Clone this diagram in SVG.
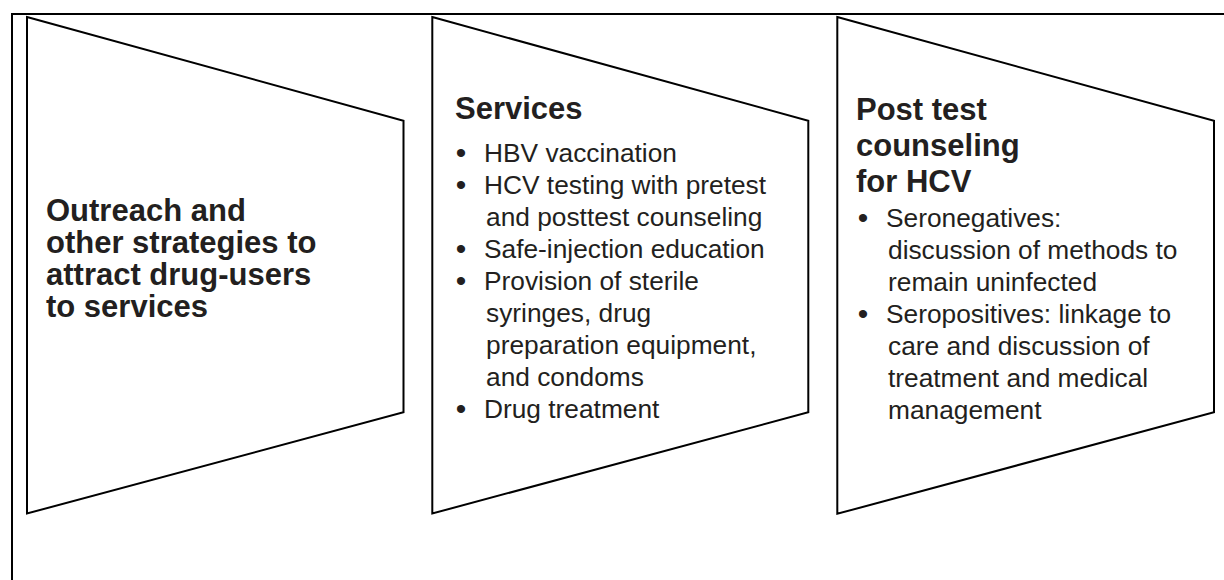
<svg xmlns="http://www.w3.org/2000/svg" width="1224" height="580" viewBox="0 0 1224 580">
<style>
.frame{fill:none;stroke:#000;stroke-width:2}
.shape{fill:#fff;stroke:#000;stroke-width:2;stroke-linejoin:miter}
.h{font-family:"Liberation Sans",Arial,Helvetica,sans-serif;font-weight:bold;font-size:31px;fill:#231f20}
.b{font-family:"Liberation Sans",Arial,Helvetica,sans-serif;font-size:26.3px;fill:#231f20}
.dot{font-size:30px}
</style>
<rect width="1224" height="580" fill="#fff"/>
<path class="frame" d="M12,580 V14 H1224"/>
<g id="node-outreach">
<polygon class="shape" points="27,17 403.5,120.7 403.5,412.3 27,513.5"/>
<text class="h" x="46" y="221">Outreach and</text>
<text class="h" x="46" y="253">other strategies to</text>
<text class="h" x="46" y="285">attract drug-users</text>
<text class="h" x="46" y="317">to services</text>
</g>
<g id="node-services">
<polygon class="shape" points="432.3,17 808.3,120.7 808.3,412.3 432.3,513.5"/>
<text class="h" x="455" y="118.5">Services</text>
<g class="b">
<text class="dot" x="461" y="163" text-anchor="middle">•</text><text x="484" y="162">HBV vaccination</text>
<text class="dot" x="461" y="195" text-anchor="middle">•</text><text x="484" y="194">HCV testing with pretest</text>
<text x="486" y="226">and posttest counseling</text>
<text class="dot" x="461" y="259" text-anchor="middle">•</text><text x="484" y="258">Safe-injection education</text>
<text class="dot" x="461" y="291" text-anchor="middle">•</text><text x="484" y="290">Provision of sterile</text>
<text x="486" y="322">syringes, drug</text>
<text x="486" y="354">preparation equipment,</text>
<text x="486" y="386">and condoms</text>
<text class="dot" x="461" y="419" text-anchor="middle">•</text><text x="484" y="418">Drug treatment</text>
</g>
</g>
<g id="node-posttest">
<polygon class="shape" points="837.3,17 1214,120.7 1214,412.3 837.3,513.8"/>
<text class="h" x="856" y="119.5">Post test</text>
<text class="h" x="856" y="155.5">counseling</text>
<text class="h" x="856" y="191.5">for HCV</text>
<g class="b">
<text class="dot" x="863" y="228" text-anchor="middle">•</text><text x="886" y="227">Seronegatives:</text>
<text x="888" y="259">discussion of methods to</text>
<text x="888" y="291">remain uninfected</text>
<text class="dot" x="863" y="324" text-anchor="middle">•</text><text x="886" y="323">Seropositives: linkage to</text>
<text x="888" y="355">care and discussion of</text>
<text x="888" y="387">treatment and medical</text>
<text x="888" y="419">management</text>
</g>
</g>
<g id="connectors"></g>
</svg>
